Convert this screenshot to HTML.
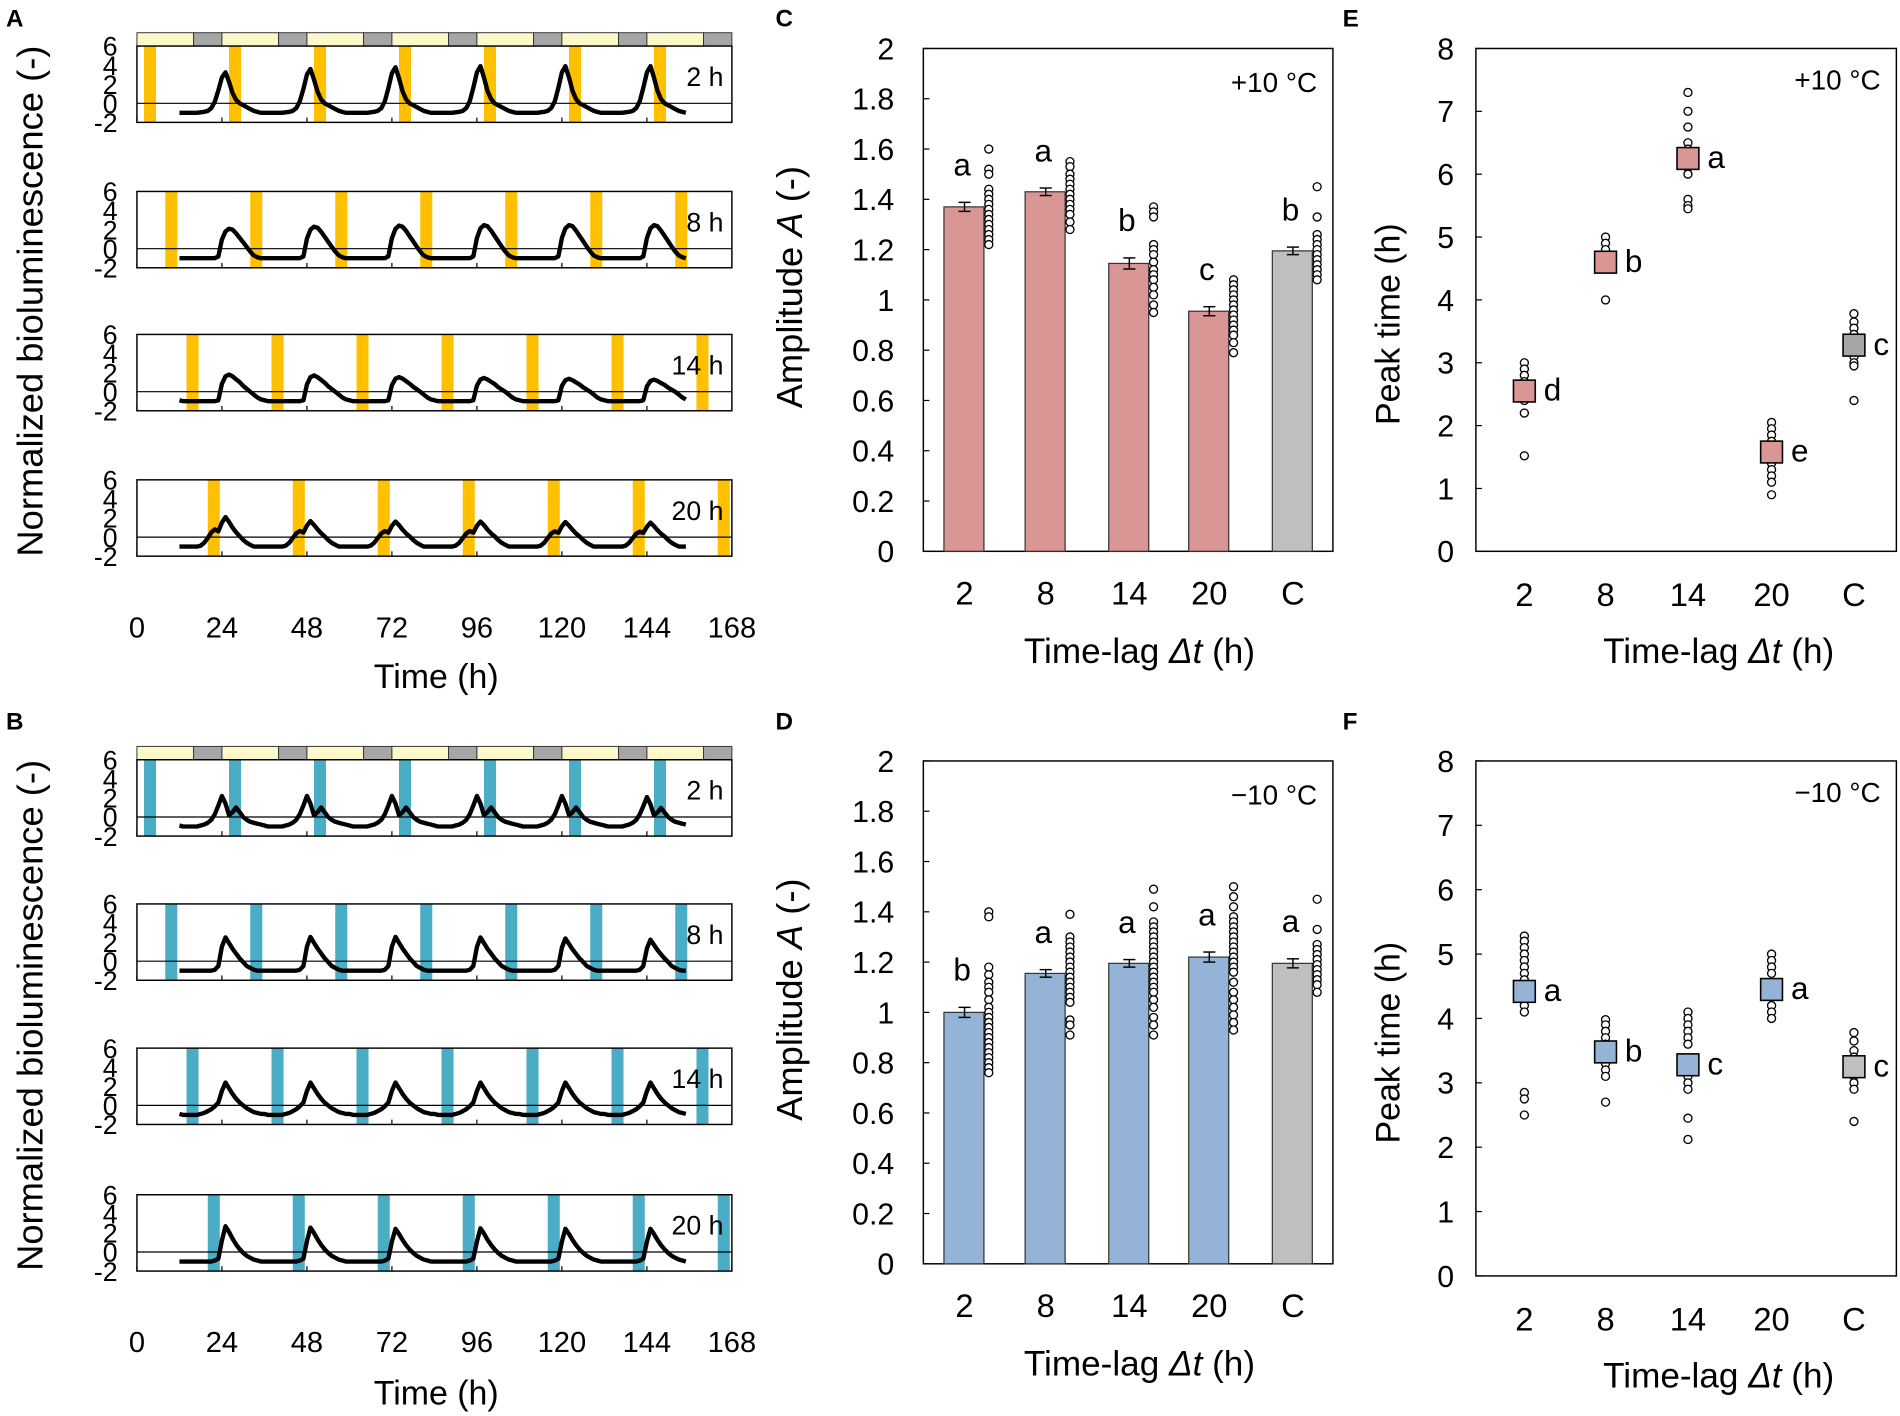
<!DOCTYPE html>
<html><head><meta charset="utf-8"><style>
html,body{margin:0;padding:0;background:#fff}
svg{display:block;font-family:"Liberation Sans",Arial,sans-serif}
</style></head><body>
<svg id="fig" width="1900" height="1416" viewBox="0 0 1568 1168.6" preserveAspectRatio="none" xmlns="http://www.w3.org/2000/svg"></svg>
<script>
// ---------- data ----------
const pulseStartsA = [[2,26,50,74,98,122,146],[8,32,56,80,104,128,152],[14,38,62,86,110,134,158],[20,44,68,92,116,140,164]];
const lagLabels = ["2 h","8 h","14 h","20 h"];
const tplA2  = [-1,-1,-1,-1,-1,-1,-0.95,-0.9,-0.8,-0.5,0.2,1.5,3.0,3.6,2.5,1.2,0.4,0.0,-0.2,-0.4,-0.6,-0.8,-0.9,-1.0];
const tplA8  = [-1,-1,-1,-1,-1,-1,-1,-1,-1,-1,-1,-0.8,1.0,1.9,2.2,2.1,1.7,1.2,0.7,0.2,-0.3,-0.7,-0.9,-1];
const tplA14 = [-0.9,-1,-1,-1,-1,-1,-1,-1,-1,-1,-1,-0.9,0.8,1.6,1.8,1.6,1.3,1.0,0.6,0.3,0.0,-0.3,-0.6,-0.8];
const tplA20 = [-1,-1,-1,-1,-1,-1,-0.9,-0.6,-0.1,0.5,0.8,0.6,1.5,2.1,1.6,1.0,0.5,0.1,-0.3,-0.6,-0.8,-1,-1,-1];
const tplB2  = [-0.9,-1,-1,-1,-1,-1,-0.9,-0.8,-0.6,-0.3,0.3,1.2,2.2,1.4,0.2,0.5,1.0,0.5,0.0,-0.3,-0.5,-0.6,-0.7,-0.8];
const tplB8  = [-1,-1,-1,-1,-1,-1,-1,-1,-1,-1,-0.9,-0.5,1.5,2.5,1.9,1.3,0.8,0.3,-0.1,-0.5,-0.7,-0.9,-1,-1];
const tplB14 = [-0.9,-1,-1,-1,-1,-1,-0.9,-0.8,-0.6,-0.4,-0.1,0.3,1.5,2.4,1.8,1.2,0.7,0.3,0,-0.3,-0.5,-0.7,-0.8,-0.9];
const tplB20 = [-1,-1,-1,-1,-1,-1,-1,-1,-1,-1,-0.9,-0.7,1.2,2.7,2.1,1.4,0.8,0.3,-0.1,-0.4,-0.6,-0.8,-0.9,-1];
const cycleScaleA = [[0.9,1.0,1.05,1.08,1.08,1.08],[0.95,1.05,1.1,1.12,1.12,1.12],[1,0.95,0.85,0.8,0.75,0.7],[1,0.8,0.78,0.78,0.75,0.72]];
const cycleScaleB = [[1,1,1,1,1,0.95],[1,1.02,1.02,1,0.95,0.9],[1,1,1,1,1,1],[1,0.95,0.9,0.92,0.9,0.9]];
const categories = ["2","8","14","20","C"];
const ampWarm = [1.37,1.43,1.145,0.955,1.195];
const ampWarmErr = [0.018,0.015,0.022,0.018,0.015];
const ampCold = [1.0,1.155,1.195,1.22,1.195];
const ampColdErr = [0.02,0.015,0.015,0.02,0.018];
const ampWarmLetters = ["a","a","b","c","b"];
const ampColdLetters = ["b","a","a","a","a"];
const ampWarmPts = [[1.6,1.52,1.5,1.44,1.42,1.4,1.38,1.36,1.34,1.32,1.3,1.28,1.26,1.24,1.22],[1.55,1.53,1.5,1.48,1.46,1.44,1.42,1.4,1.38,1.36,1.34,1.31,1.28],[1.37,1.35,1.33,1.22,1.2,1.18,1.15,1.12,1.1,1.08,1.05,1.02,0.98,0.95],[1.08,1.06,1.04,1.02,1.0,0.98,0.96,0.94,0.92,0.9,0.88,0.86,0.83,0.79],[1.45,1.33,1.26,1.24,1.22,1.2,1.18,1.16,1.14,1.12,1.1,1.08]];
const ampColdPts = [[1.4,1.38,1.18,1.15,1.12,1.1,1.08,1.05,1.02,1.0,0.98,0.96,0.94,0.92,0.9,0.88,0.86,0.84,0.82,0.8,0.78,0.76],[1.39,1.3,1.28,1.26,1.24,1.22,1.2,1.18,1.16,1.14,1.12,1.1,1.08,1.06,1.04,0.97,0.95,0.91],[1.49,1.42,1.36,1.34,1.32,1.3,1.28,1.26,1.24,1.22,1.2,1.18,1.16,1.14,1.12,1.1,1.08,1.05,1.02,0.98,0.95,0.91],[1.5,1.46,1.42,1.38,1.36,1.34,1.32,1.3,1.28,1.26,1.24,1.22,1.2,1.18,1.16,1.12,1.08,1.05,1.02,0.99,0.96,0.93],[1.45,1.33,1.27,1.25,1.23,1.21,1.19,1.17,1.15,1.13,1.11,1.08]];
const peakWarm = [2.55,4.6,6.25,1.58,3.28];
const peakCold = [4.42,3.48,3.28,4.45,3.25];
const peakWarmLetters = ["d","b","a","e","c"];
const peakColdLetters = ["a","b","c","a","c"];
const peakWarmPts = [[3.0,2.9,2.8,2.7,2.6,2.4,2.2,1.52],[5.0,4.9,4.8,4.7,4.5,4.0],[7.3,7.0,6.75,6.5,6.4,6.1,6.0,5.6,5.5,5.45],[2.05,1.95,1.85,1.75,1.5,1.4,1.3,1.2,1.1,0.9],[3.78,3.65,3.55,3.45,3.1,3.0,2.95,2.4]];
const peakColdPts = [[5.28,5.2,5.1,5.0,4.9,4.8,4.7,4.6,4.3,4.2,4.1,2.85,2.75,2.5],[3.98,3.9,3.8,3.7,3.6,3.3,3.2,3.1,2.7],[4.1,4.0,3.9,3.8,3.7,3.6,3.1,3.0,2.9,2.45,2.12],[5.0,4.9,4.8,4.7,4.2,4.1,4.0],[3.78,3.65,3.5,3.4,3.1,3.0,2.9,2.4]];
const ampTicks = ["0","0.2","0.4","0.6","0.8","1","1.2","1.4","1.6","1.8","2"];
const peakTicks = ["0","1","2","3","4","5","6","7","8"];
const timeTicks = [0,24,48,72,96,120,144,168];
const bioTicks = [6,4,2,0,-2];

// ---------- helpers ----------
const svg = document.getElementById('fig');
const NS = 'http://www.w3.org/2000/svg';
function mk(tag, attrs, parent){
  const e = document.createElementNS(NS, tag);
  for (const k in attrs) e.setAttribute(k, attrs[k]);
  (parent||svg).appendChild(e);
  return e;
}
function txt(s, x, y, size, anchor, parent){
  const t = mk('text', {x:x, y:y, 'font-size':size, 'text-anchor':anchor||'middle', fill:'#000'}, parent);
  t.textContent = s;
  return t;
}
function grp(name){
  const g = mk('g', {});
  
  
  return g;
}

[["A",5,22],["B",5,602],["C",640,22],["D",640,602],["E",1108,22],["F",1108,602]].forEach(p=>{
  const t = txt(p[0], p[1], p[2], 20, 'start');
  t.setAttribute('font-weight','bold');
  
  
});

function tsPanel(name, barTop, tops, pulseColor, tpls, scales, titleY, tickY){
  const g = grp(name);
  const X0 = 113, X1 = 604;
  const xs = t => X0 + t*(X1-X0)/168;
  const ld = mk('g', {}, g);
  
  
  for (let d=0; d<7; d++){
    mk('rect',{x:xs(d*24),y:barTop,width:xs(16)-xs(0),height:11,fill:'#FCF8C9',stroke:'#333','stroke-width':0.8}, ld);
    mk('rect',{x:xs(d*24+16),y:barTop,width:xs(8)-xs(0),height:11,fill:'#A6A6A6',stroke:'#333','stroke-width':0.8}, ld);
  }
  tops.forEach((top, i) => {
    const H = 63;
    const ys = v => top + (6 - v)/8*H;
    const sub = mk('g', {}, g);
    
    
    pulseStartsA[i].forEach(s => {
      const w = Math.min(3.4, 168 - s);
      const r = mk('rect',{x:xs(s),y:top,width:xs(w)-xs(0),height:H,fill:pulseColor}, sub);
      
      
    });
    mk('line',{x1:X0,x2:X1,y1:ys(0),y2:ys(0),stroke:'#000','stroke-width':1}, sub);
    let pts = [];
    for (let c=0; c<6; c++){
      const tpl = tpls[i];
      for (let h=0; h<24; h++){
        const t = 12 + c*24 + h;
        if (t > 156) break;
        let v = tpl[h];
        if (v > 0) v *= scales[i][c];
        pts.push(xs(t).toFixed(1)+','+ys(v).toFixed(1));
      }
    }
    const pl = mk('polyline',{points:pts.join(' '),fill:'none',stroke:'#000','stroke-width':3.6,'stroke-linejoin':'round'}, sub);
    
    
    mk('rect',{x:X0,y:top,width:X1-X0,height:H,fill:'none',stroke:'#000','stroke-width':1.2}, sub);
    timeTicks.forEach(t=>mk('line',{x1:xs(t),x2:xs(t),y1:top+H,y2:top+H-4,stroke:'#000'}, sub));
    bioTicks.forEach(v=>txt(String(v), 97, ys(v)+8, 22, 'end', sub));
    txt(lagLabels[i], 597, top+33, 22, 'end', sub);
  });
  timeTicks.forEach(t=>txt(String(t), xs(t), tickY, 24, 'middle', g));
  const tt = txt('Time (h)', 360, titleY, 28, 'middle', g);
  
  
  const yt = txt('Normalized bioluminescence (-)', 0, 0, 30, 'middle', g);
  yt.setAttribute('transform','translate(35,'+((tops[0]+tops[3]+63)/2)+') rotate(-90)');
  
  
}
tsPanel('panel-a', 27, [38,158,276,396], '#FFC000', [tplA2,tplA8,tplA14,tplA20], cycleScaleA, 568, 526);
tsPanel('panel-b', 616, [627,746,865,986], '#4BACC6', [tplB2,tplB8,tplB14,tplB20], cycleScaleB, 1159, 1116);

const catXBar = [796,863,932,998,1067];
function barPanel(name, y0, vals, errs, letters, pts, color, tempLabel){
  const g = grp(name);
  const X0 = 762, X1 = 1100, H = 415;
  const ys = v => y0 - v/2*H;
  mk('rect',{x:X0,y:ys(2),width:X1-X0,height:H,fill:'none',stroke:'#000','stroke-width':1.2}, g);
  ampTicks.forEach(s=>{
    const v = parseFloat(s);
    txt(s, 738, ys(v)+9, 25, 'end', g);
    mk('line',{x1:X0,x2:X0+5,y1:ys(v),y2:ys(v),stroke:'#000'}, g);
  });
  vals.forEach((v,i)=>{
    const cx = catXBar[i];
    const b = mk('rect',{x:cx-17,y:ys(v),width:33,height:ys(0)-ys(v),fill:i===4?'#BFBFBF':color,stroke:'#333','stroke-width':1}, g);
    
    
    const e1 = ys(v+errs[i]), e2 = ys(v-errs[i]);
    mk('line',{x1:cx,x2:cx,y1:e1,y2:e2,stroke:'#000','stroke-width':1.2}, g);
    mk('line',{x1:cx-5,x2:cx+5,y1:e1,y2:e1,stroke:'#000','stroke-width':1.2}, g);
    mk('line',{x1:cx-5,x2:cx+5,y1:e2,y2:e2,stroke:'#000','stroke-width':1.2}, g);
    pts[i].forEach(p=>mk('circle',{cx:cx+20,cy:ys(p),r:3.3,fill:'#fff',stroke:'#000','stroke-width':1.1}, g));
    txt(letters[i], cx-2, ys(v+errs[i])-22, 26, 'middle', g);
    txt(categories[i], cx, y0+44, 27, 'middle', g);
  });
  txt(tempLabel, 1087, ys(2)+36, 23, 'end', g);
  const xt = txt('Time-lag ', 0, 0, 29, 'start', g);
  xt.setAttribute('x', 845); xt.setAttribute('y', y0+92);
  const it = mk('tspan',{'font-style':'italic'}, xt); it.textContent = 'Δt';
  const rt = mk('tspan',{}, xt); rt.textContent = ' (h)';
  
  const yt = txt('', 0, 0, 30, 'middle', g);
  yt.appendChild(document.createTextNode('Amplitude '));
  const ia = mk('tspan',{'font-style':'italic'}, yt); ia.textContent='A';
  yt.appendChild(document.createTextNode(' (-)'));
  yt.setAttribute('transform','translate(662,'+(y0-218)+') rotate(-90)');
  
}
barPanel('panel-c', 455, ampWarm, ampWarmErr, ampWarmLetters, ampWarmPts, '#DA9694', '+10 °C');
barPanel('panel-d', 1043, ampCold, ampColdErr, ampColdLetters, ampColdPts, '#95B3D7', '−10 °C');

const catXPk = [1258,1325,1393,1462,1530];
function peakPanel(name, yTop, yBot, vals, letters, pts, color, tempLabel){
  const g = grp(name);
  const X0 = 1218, X1 = 1565;
  const ys = v => yBot - v/8*(yBot-yTop);
  mk('rect',{x:X0,y:yTop,width:X1-X0,height:yBot-yTop,fill:'none',stroke:'#000','stroke-width':1.2}, g);
  peakTicks.forEach(s=>{
    const v = parseFloat(s);
    txt(s, 1200, ys(v)+9, 25, 'end', g);
    mk('line',{x1:X0,x2:X0+5,y1:ys(v),y2:ys(v),stroke:'#000'}, g);
  });
  vals.forEach((v,i)=>{
    const cx = catXPk[i];
    pts[i].forEach(p=>mk('circle',{cx:cx,cy:ys(p),r:3.3,fill:'#fff',stroke:'#000','stroke-width':1.1}, g));
    const m = mk('rect',{x:cx-9,y:ys(v)-9,width:18,height:18,fill:i===4?(color==='#DA9694'?'#A6A6A6':'#BFBFBF'):color,stroke:'#000','stroke-width':1.3}, g);
    
    
    txt(letters[i], cx+16, ys(v)+8, 26, 'start', g);
    txt(categories[i], cx, yBot+45, 27, 'middle', g);
  });
  txt(tempLabel, 1552, yTop+34, 23, 'end', g);
  const xt = txt('Time-lag ', 1323, yBot+92, 29, 'start', g);
  const it = mk('tspan',{'font-style':'italic'}, xt); it.textContent = 'Δt';
  const rt = mk('tspan',{}, xt); rt.textContent = ' (h)';
  
  const yt = txt('Peak time (h)', 0, 0, 28, 'middle', g);
  yt.setAttribute('transform','translate(1155,'+((yTop+yBot)/2+20)+') rotate(-90)');
  
}
peakPanel('panel-e', 40, 455, peakWarm, peakWarmLetters, peakWarmPts, '#DA9694', '+10 °C');
peakPanel('panel-f', 628, 1053, peakCold, peakColdLetters, peakColdPts, '#95B3D7', '−10 °C');
</script>
</body></html>
